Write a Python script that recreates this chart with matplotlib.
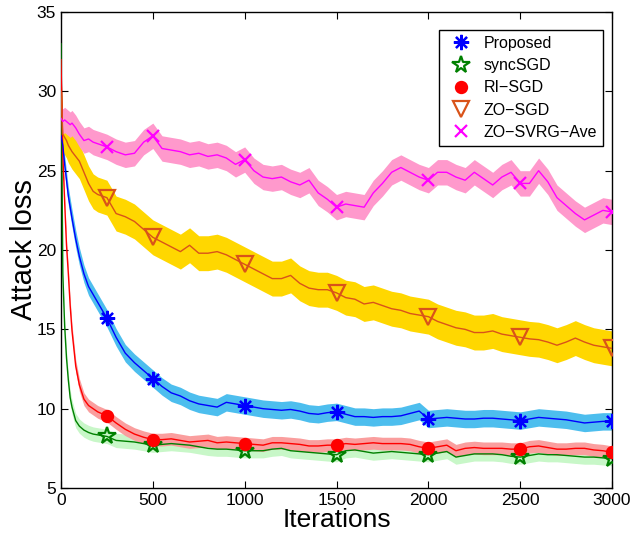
#!/usr/bin/python

import matplotlib
matplotlib.use("Agg")
import matplotlib.pyplot as plt
from matplotlib.lines import Line2D

iterations = [0, 10, 20, 30, 40, 50, 60, 80, 100, 125, 150, 175, 200,
	250, 300, 350, 400, 450, 500, 550, 600, 650, 700, 750, 800, 850, 900, 950,
	1000, 1050, 1100, 1150, 1200, 1250, 1300, 1350, 1400, 1450, 1500, 1550,
	1600, 1650, 1700, 1750, 1800, 1850, 1900, 1950, 2000, 2050, 2100, 2150,
	2200, 2250, 2300, 2350, 2400, 2450, 2500, 2550, 2600, 2650, 2700, 2750,
	2800, 2850, 2900, 2950, 3000]

markerIters = [250, 500, 1000, 1500, 2000, 2500, 3000]

proposed = [27.2, 26.6, 25.4, 24.4, 23.4, 22.7, 22.0, 20.7, 19.6, 18.5, 17.7, 17.2, 16.7,
	15.7, 14.5, 13.5, 12.9, 12.4, 11.9, 11.4, 11.0, 10.8, 10.5, 10.3, 10.2, 10.1, 10.4, 10.3,
	10.2, 10.1, 10.0, 9.95, 9.9, 9.95, 9.85, 9.7, 9.65, 9.75, 9.8, 9.65,
	9.5, 9.5, 9.45, 9.5, 9.5, 9.55, 9.7, 9.85, 9.35, 9.4, 9.45, 9.4,
	9.35, 9.35, 9.4, 9.4, 9.35, 9.3, 9.25, 9.35, 9.45, 9.4, 9.35, 9.3,
	9.2, 9.1, 9.15, 9.2, 9.2]

syncSGD = [33.0, 18.5, 15.2, 13.2, 11.8, 10.7, 10.1, 9.25, 8.9, 8.65, 8.5, 8.4, 8.35,
	8.25, 8.0, 7.95, 7.9, 7.8, 7.7, 7.75, 7.8, 7.75, 7.7, 7.6, 7.5, 7.45, 7.45, 7.4,
	7.35, 7.35, 7.35, 7.45, 7.5, 7.35, 7.3, 7.25, 7.2, 7.15, 7.1, 7.35,
	7.4, 7.3, 7.2, 7.25, 7.3, 7.25, 7.2, 7.15, 7.1, 7.2, 7.3, 6.95,
	7.05, 7.15, 7.15, 7.15, 7.1, 7.0, 6.95, 7.05, 7.15, 7.1, 7.1, 7.05,
	7.0, 6.95, 6.95, 6.9, 6.85]

riSGD = [32.0, 26.0, 23.0, 20.3, 18.5, 16.5, 14.9, 12.7, 11.5, 10.6, 10.2, 10.0, 9.8,
	9.55, 9.1, 8.7, 8.4, 8.2, 8.05, 8.05, 8.1, 8.0, 7.9, 7.95, 8.0, 7.85, 7.9, 7.85,
	7.8, 7.75, 7.7, 7.85, 7.85, 7.8, 7.75, 7.65, 7.65, 7.7, 7.7, 7.8,
	7.75, 7.8, 7.85, 7.8, 7.8, 7.8, 7.75, 7.6, 7.5, 7.6, 7.7, 7.35,
	7.5, 7.55, 7.5, 7.5, 7.5, 7.45, 7.45, 7.6, 7.65, 7.55, 7.45, 7.45,
	7.5, 7.5, 7.4, 7.35, 7.25]

zoSGD = [30.0, 27.3, 27.1, 26.9, 26.6, 26.4, 26.2, 25.9, 25.6, 24.9, 24.2, 23.7, 23.5,
	23.3, 22.3, 22.1, 21.8, 21.3, 20.8, 20.5, 20.2, 19.9, 20.3, 19.8, 19.8, 19.9, 19.7, 19.4,
	19.1, 18.8, 18.5, 18.2, 18.2, 18.4, 17.9, 17.6, 17.5, 17.5, 17.3, 17.0,
	16.9, 16.6, 16.7, 16.5, 16.3, 16.2, 16.0, 15.9, 15.8, 15.5, 15.3, 15.1,
	15.0, 14.8, 14.8, 14.9, 14.7, 14.6, 14.5, 14.4, 14.35, 14.2, 14.0, 14.2,
	14.45, 14.2, 14.0, 13.9, 13.8]

zoSVRG = [28.3, 28.1, 28.2, 28.1, 28.0, 27.9, 28.0, 27.7, 27.3, 26.9, 27.0, 26.8, 26.7,
	26.5, 26.2, 26.0, 26.1, 26.8, 27.2, 26.4, 26.3, 26.2, 26.0, 26.1, 25.9, 26.0, 25.8, 25.4,
	25.7, 25.0, 24.6, 24.5, 24.6, 24.3, 24.1, 24.4, 23.6, 23.2, 22.7, 22.9,
	22.8, 22.7, 23.6, 24.2, 24.9, 25.2, 24.9, 24.6, 24.4, 24.9, 24.9, 24.6,
	24.4, 24.9, 24.5, 24.1, 24.6, 24.9, 24.2, 24.2, 25.0, 24.3, 23.3, 22.8,
	22.3, 21.9, 22.2, 22.5, 22.4]

# half width of the shaded band around each curve
spreads = [0.55, 0.45, 0.4, 1.1, 0.8]

names = ["Proposed", "syncSGD", "RI" + "\u2212" + "SGD", "ZO" + "\u2212" + "SGD",
	"ZO" + "\u2212" + "SVRG" + "\u2212" + "Ave"]

def plot(ax):
	series = [proposed, syncSGD, riSGD, zoSGD, zoSVRG]
	lineColors = ["#0000FF", "#008000", "#FF0000", "#D95319", "#FF00FF"]
	bandColors = ["#4DBEEE", "#C8F7C8", "#FA9E9E", "#FFD700", "#FF99CC"]
	markers = [(8, 2, 0), "*", "o", "v", "x"]
	msizes = [11, 13, 8, 12, 9]
	faces = ["#0000FF", "none", "#FF0000", "none", "#FF00FF"]
	drawOrder = [1, 2, 0, 3, 4]

	marks = [iterations.index(i) for i in markerIters]

	handles = []
	for k in drawOrder:
		vals = series[k]
		lo = [v - spreads[k] for v in vals]
		hi = [v + spreads[k] for v in vals]
		ax.fill_between(iterations, lo, hi, color=bandColors[k], linewidth=0, zorder=1 + k * 0.1)
		ax.plot(iterations, vals, color=lineColors[k], linewidth=1.0, zorder=3)
		ax.plot([iterations[m] for m in marks], [vals[m] for m in marks],
			linestyle="none", marker=markers[k], markersize=msizes[k],
			markerfacecolor=faces[k], markeredgecolor=lineColors[k],
			markeredgewidth=1.6, zorder=4)

	for k in range(5):
		handles.append(Line2D([], [], linestyle="none", marker=markers[k],
			markersize=msizes[k], markerfacecolor=faces[k],
			markeredgecolor=lineColors[k], markeredgewidth=1.6, label=names[k]))

	ax.set_xlim(0, 3000)
	ax.set_ylim(5, 35)
	ax.set_xticks([0, 500, 1000, 1500, 2000, 2500, 3000])
	ax.set_yticks([5, 10, 15, 20, 25, 30, 35])
	ax.tick_params(direction="in", top=True, right=True, length=5, width=0.8, labelsize=12.5)
	ax.set_xlabel("Iterations", fontsize=19, labelpad=0)
	ax.set_ylabel("Attack loss", fontsize=21, labelpad=-1)
	for s in ax.spines.values():
		s.set_linewidth(1.0)

	leg = ax.legend(handles=handles, loc="upper right", bbox_to_anchor=(0.984, 0.963),
		borderaxespad=0, fancybox=False, edgecolor="black", framealpha=1,
		fontsize=11.5, handletextpad=0.4, labelspacing=0.45, borderpad=0.4)
	leg.get_frame().set_linewidth(1.0)

def main():
	plt.rcParams["font.family"] = ["Liberation Sans", "DejaVu Sans"]
	fig = plt.figure(figsize=(6.32, 5.33), dpi=100)
	ax = fig.add_axes([0.0965, 0.0844, 0.872, 0.893])
	plot(ax)
	fig.savefig("out.png", dpi=100)

if __name__ == "__main__":
	main()
